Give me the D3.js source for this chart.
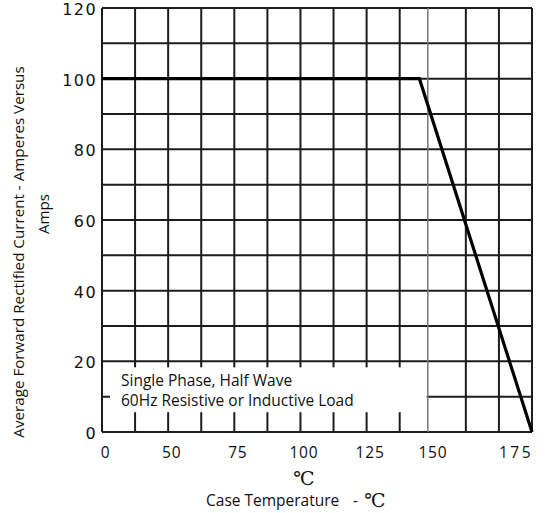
<!DOCTYPE html>
<html><head><meta charset="utf-8">
<script src="https://cdn.jsdelivr.net/npm/d3@7"></script>
<style>
html,body{margin:0;padding:0;background:#fff;}
svg{display:block;}
text{fill:#111;white-space:pre;}
</style></head>
<body>
<svg id="chart" width="551" height="513"></svg>
<script>
// ---- data ----
const yTicks = [0, 20, 40, 60, 80, 100, 120];
const yGridLines = [0, 10, 20, 30, 40, 50, 60, 70, 80, 90, 100, 110, 120];
// vertical grid lines in grid-column units (the sheet's grid is slightly irregular)
const xGridCols = [0, 1, 2, 3, 4, 5, 6, 7, 8, 9, 9.85, 11, 12, 13];
// temperature tick labels and the grid column where each sits
const xTickTemps = [0, 50, 75, 100, 125, 150, 175];
const xTickLabels = ["0", "50", "75", "100", "125", "150", "175"];
const xTickCols = [0, 2, 4, 6, 8, 9.9, 13];
// derating curve: case temperature (°C) vs current (A)
const curveTemp = [0, 146, 175];
const curveAmps = [100, 100, 0];
const noteLines = ["Single Phase, Half Wave", "60Hz Resistive or Inductive Load"];

// ---- layout ----
const W = 551, H = 513;
const m = {left: 102, right: 19, top: 8, bottom: 81};
const svg = d3.select("#chart");

const col = d3.scaleLinear().domain([0, 13]).range([m.left, W - m.right]);
const tempToCol = d3.scaleLinear().domain(xTickTemps).range(xTickCols);
const x = t => col(tempToCol(t));
const y = d3.scaleLinear().domain([0, 120]).range([H - m.bottom, m.top]);

const gridColor = "#1c1c1c";
const g = svg.append("g");

// horizontal grid
g.selectAll("line.h").data(yGridLines).join("line")
  .attr("x1", col(0)).attr("x2", col(13))
  .attr("y1", d => y(d)).attr("y2", d => y(d))
  .attr("stroke", gridColor).attr("stroke-width", 2);

// vertical grid
g.selectAll("line.v").data(xGridCols).join("line")
  .attr("x1", d => col(d)).attr("x2", d => col(d))
  .attr("y1", y(0)).attr("y2", y(120))
  .attr("stroke", d => d === 9.85 ? "#777" : gridColor)
  .attr("stroke-width", d => d === 9.85 ? 1.5 : 2);

// white note box masking the grid
const boxLeft = col(0) + 8, boxRight = col(9.85) - 1.2;
svg.append("rect")
  .attr("x", boxLeft).attr("y", y(18.3))
  .attr("width", boxRight - boxLeft).attr("height", y(5.6) - y(18.3))
  .attr("fill", "#fff");

svg.append("g").selectAll("text").data(noteLines).join("text")
  .attr("x", col(0) + 19)
  .attr("y", (d, i) => 386 + i * 20)
  .attr("font-family", "'Open Sans', sans-serif")
  .attr("font-size", 15.5)
  .text(d => d);

// curve
const line = d3.line().x(d => x(d[0])).y(d => y(d[1]));
svg.append("path")
  .datum(d3.zip(curveTemp, curveAmps))
  .attr("d", line)
  .attr("fill", "none").attr("stroke", "#000").attr("stroke-width", 3.2)
  .attr("stroke-linejoin", "miter");

// y tick labels
svg.append("g").selectAll("text").data(yTicks).join("text")
  .attr("x", m.left - 5)
  .attr("y", d => y(d) + 1.5)
  .attr("text-anchor", "end")
  .attr("dominant-baseline", "central")
  .attr("font-family", "'DejaVu Sans', sans-serif")
  .attr("font-size", 16)
  .attr("letter-spacing", 1.4)
  .text(d => d);

// x tick labels
svg.append("g").selectAll("text").data(d3.range(xTickLabels.length)).join("text")
  .attr("x", i => i === xTickLabels.length - 1 ? col(xTickCols[i]) + 1 : col(xTickCols[i]) + 3.5)
  .attr("y", 452)
  .attr("text-anchor", i => i === xTickLabels.length - 1 ? "end" : "middle")
  .attr("dominant-baseline", "central")
  .attr("font-family", "'Open Sans', sans-serif")
  .attr("font-size", 15.5)
  .attr("letter-spacing", i => i === xTickLabels.length - 1 ? 2.5 : 0.8)
  .text(i => xTickLabels[i]);

// x axis title
svg.append("text")
  .attr("x", 304).attr("y", 478)
  .attr("text-anchor", "middle").attr("dominant-baseline", "central")
  .attr("font-family", "'DejaVu Serif', serif").attr("font-size", 19)
  .attr("fill", "#222")
  .text("℃");
svg.append("text")
  .attr("x", 206).attr("y", 500)
  .attr("dominant-baseline", "central")
  .attr("font-family", "'Open Sans', sans-serif").attr("font-size", 15.5)
  .text("Case Temperature");
svg.append("text")
  .attr("x", 353).attr("y", 500)
  .attr("dominant-baseline", "central")
  .attr("font-family", "'Open Sans', sans-serif").attr("font-size", 15.5)
  .text("-");
svg.append("text")
  .attr("x", 375).attr("y", 500)
  .attr("text-anchor", "middle").attr("dominant-baseline", "central")
  .attr("font-family", "'DejaVu Serif', serif").attr("font-size", 19)
  .attr("fill", "#222")
  .text("℃");

// y axis titles
svg.append("text")
  .attr("transform", "translate(18,252) rotate(-90)")
  .attr("text-anchor", "middle").attr("dominant-baseline", "central")
  .attr("font-family", "'Open Sans', sans-serif").attr("font-size", 15.2)
  .text("Average Forward Rectified Current - Amperes Versus");
svg.append("text")
  .attr("transform", "translate(43,214) rotate(-90)")
  .attr("text-anchor", "middle").attr("dominant-baseline", "central")
  .attr("font-family", "'Open Sans', sans-serif").attr("font-size", 15.2)
  .text("Amps");
</script>
</body></html>
